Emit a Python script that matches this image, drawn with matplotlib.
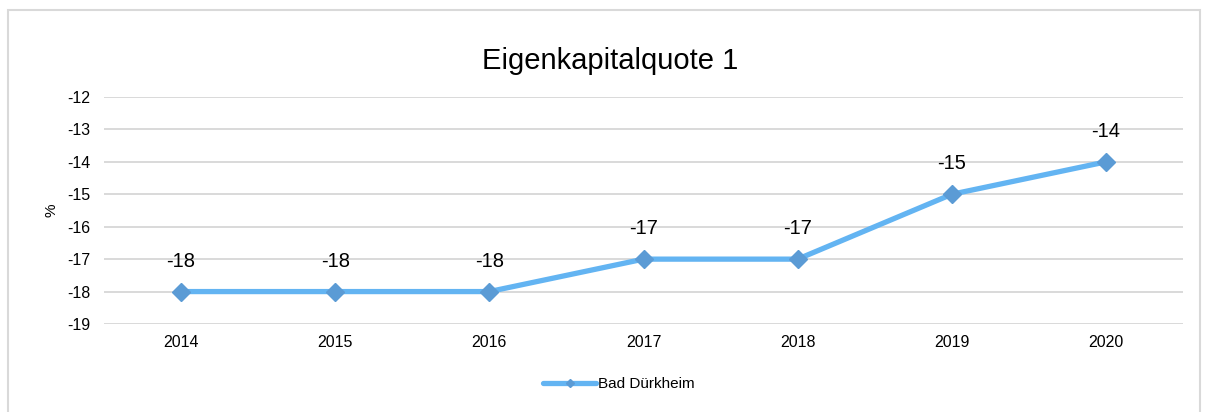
import matplotlib.pyplot as plt
from matplotlib.patches import Rectangle

plt.rcParams['font.family'] = ['Liberation Sans', 'DejaVu Sans']
plt.rcParams['axes.unicode_minus'] = False

years = ["2014", "2015", "2016", "2017", "2018", "2019", "2020"]
quote = [-18, -18, -18, -17, -17, -15, -14]

fig = plt.figure(figsize=(12.06, 4.12), dpi=100)
ax = fig.add_axes([0.0862, 0.2136, 0.8948, 0.551])

x = list(range(len(years)))
ax.plot(x, quote, color="#63B4F2", lw=3.8, marker="D", markersize=9,
        markerfacecolor="#5B9BD5", markeredgecolor="#5B9BD5",
        label="Bad Dürkheim", solid_capstyle="round", zorder=3)
for xi, v in zip(x, quote):
    ax.annotate(str(v), (xi, v), xytext=(0, 15), textcoords="offset points",
                ha="center", va="bottom", fontsize=14.5)

ax.set_xlim(-0.5, len(years) - 0.5)
ax.set_ylim(-19, -12)
ax.set_yticks(range(-19, -11))
ax.set_xticks(x)
ax.set_xticklabels(years)
ax.tick_params(length=0, labelsize=11.5)
ax.tick_params(axis="x", pad=8)
ax.tick_params(axis="y", pad=10)
ax.grid(axis="y", color="#D9D9D9", lw=1.4)
ax.set_axisbelow(True)
for s in ax.spines.values():
    s.set_visible(False)
ax.set_ylabel("%", fontsize=11, labelpad=6)

fig.suptitle("Eigenkapitalquote 1", x=0.506, y=0.885, fontsize=21)
fig.legend(loc="center", bbox_to_anchor=(0.513, 0.068), frameon=False,
           fontsize=11, handlelength=3.5, markerscale=0.5, handletextpad=0.1)

fig.patches.append(Rectangle((8 / 1206, -0.05), 1192 / 1206, 1 - 10 / 412 + 0.05,
                             transform=fig.transFigure, fill=False,
                             edgecolor="#D9D9D9", lw=1.5))

plt.savefig("out.png")
